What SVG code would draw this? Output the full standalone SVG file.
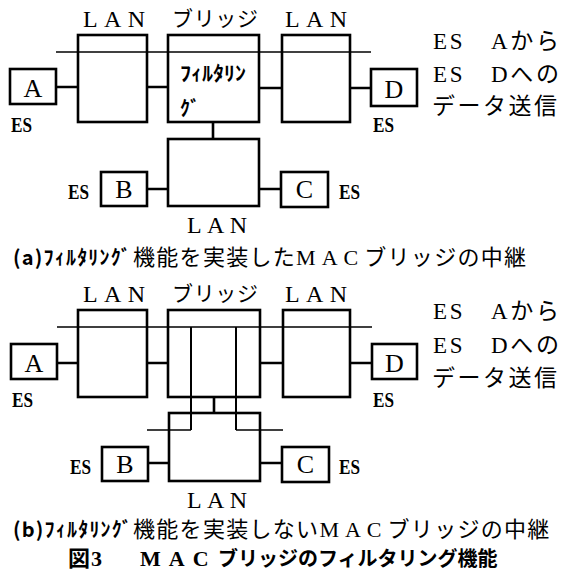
<svg xmlns="http://www.w3.org/2000/svg" width="563" height="581" viewBox="0 0 563 581">
<style>
.box{fill:none;stroke:#000;stroke-width:2.6}
.wire{fill:none;stroke:#000;stroke-width:2.6}
.bus{fill:none;stroke:#000;stroke-width:1.4}
.inner{fill:none;stroke:#000;stroke-width:2}
text{fill:#000}
.mx{font-family:'Liberation Serif','Noto Sans CJK JP',serif}
.jp{font-family:'Noto Sans CJK JP',sans-serif}
.hdr{font-size:24px}
.es{font-family:'Liberation Serif',serif;font-size:22px;font-weight:bold}
.let{font-family:'Liberation Serif',serif;font-size:26px;text-anchor:middle}
.side{font-size:23px}
.kana{font-family:'Noto Sans CJK JP',sans-serif;font-weight:bold;font-size:20px}
.cap{font-size:22px}
.hk{font-family:'Noto Sans CJK JP',sans-serif;font-weight:bold}
</style>
<rect width="563" height="581" fill="#fff"/>

<!-- ===== Panel (a) ===== -->
<g id="a-connectors">
  <path class="bus" d="M56 52 H371"/>
  <path class="wire" d="M56 87 H78 M147 87 H168 M259 88 H282 M350 88 H371 M213 122 V139 M147 189 H168 M259 189 H281"/>
</g>
<g id="a-lan1">
  <rect class="box" x="78" y="35" width="69" height="87"/>
  <text class="mx hdr" x="83" y="27" textLength="62" lengthAdjust="spacing">LAN</text>
</g>
<g id="a-bridge">
  <rect class="box" x="168" y="35" width="91" height="87"/>
  <text class="jp" x="172" y="26" font-size="21" textLength="86" lengthAdjust="spacing">ブリッジ</text>
  <text class="kana" x="180" y="81" textLength="66" lengthAdjust="spacingAndGlyphs">ﾌｨﾙﾀﾘﾝ</text>
  <text class="kana" x="180" y="116">ｸﾞ</text>
</g>
<g id="a-lan3">
  <rect class="box" x="282" y="35" width="68" height="87"/>
  <text class="mx hdr" x="285" y="27" textLength="62" lengthAdjust="spacing">LAN</text>
</g>
<g id="a-es-a">
  <rect class="box" x="10" y="69" width="46" height="35"/>
  <text class="let" x="33" y="97">A</text>
  <text class="es" x="11" y="132" textLength="21" lengthAdjust="spacingAndGlyphs">ES</text>
</g>
<g id="a-es-d">
  <rect class="box" x="371" y="69" width="46" height="37"/>
  <text class="let" x="394" y="98">D</text>
  <text class="es" x="373" y="132" textLength="21" lengthAdjust="spacingAndGlyphs">ES</text>
</g>
<g id="a-lan-bottom">
  <rect class="box" x="168" y="139" width="91" height="67"/>
  <text class="mx hdr" x="187" y="233" textLength="60" lengthAdjust="spacing">LAN</text>
</g>
<g id="a-es-b">
  <rect class="box" x="101" y="172" width="46" height="34"/>
  <text class="let" x="124" y="198">B</text>
  <text class="es" x="68" y="199" textLength="21" lengthAdjust="spacingAndGlyphs">ES</text>
</g>
<g id="a-es-c">
  <rect class="box" x="281" y="172" width="47" height="35"/>
  <text class="let" x="304.5" y="198">C</text>
  <text class="es" x="339" y="199" textLength="21" lengthAdjust="spacingAndGlyphs">ES</text>
</g>
<g id="a-note">
  <text class="mx side" x="433" y="49" textLength="126" lengthAdjust="spacing">ES　Aから</text>
  <text class="mx side" x="433" y="82" textLength="126" lengthAdjust="spacing">ES　Dへの</text>
  <text class="jp side" x="432" y="114" textLength="125" lengthAdjust="spacing">データ送信</text>
</g>
<g id="a-caption">
  <text class="mx cap" x="13" y="265"><tspan class="hk" font-size="20" letter-spacing="1.2">(a)ﾌｨﾙﾀﾘﾝｸﾞ</tspan><tspan x="133" letter-spacing="1.3">機能を実装した</tspan><tspan letter-spacing="6">MAC</tspan><tspan letter-spacing="1.3">ブリッジの中継</tspan></text>
</g>

<!-- ===== Panel (b) ===== -->
<g id="b-connectors">
  <path class="bus" d="M57 327 H372 M147 430 H191 M236 430 H283"/>
  <path class="inner" d="M191 327 V430 M236 327 V430"/>
  <path class="wire" d="M57 363 H78 M147 363 H168 M260 363 H283 M350 363 H372 M214 397 V413 M148 463 H169 M260 463 H282"/>
</g>
<g id="b-lan1">
  <rect class="box" x="78" y="310" width="69" height="87"/>
  <text class="mx hdr" x="83" y="302" textLength="62" lengthAdjust="spacing">LAN</text>
</g>
<g id="b-bridge">
  <rect class="box" x="168" y="310" width="92" height="87"/>
  <text class="jp" x="172" y="301" font-size="21" textLength="86" lengthAdjust="spacing">ブリッジ</text>
</g>
<g id="b-lan3">
  <rect class="box" x="283" y="310" width="67" height="87"/>
  <text class="mx hdr" x="285" y="302" textLength="62" lengthAdjust="spacing">LAN</text>
</g>
<g id="b-es-a">
  <rect class="box" x="11" y="344" width="46" height="35"/>
  <text class="let" x="34" y="372">A</text>
  <text class="es" x="12" y="407" textLength="21" lengthAdjust="spacingAndGlyphs">ES</text>
</g>
<g id="b-es-d">
  <rect class="box" x="372" y="344" width="45" height="35"/>
  <text class="let" x="394.5" y="372">D</text>
  <text class="es" x="373" y="407" textLength="21" lengthAdjust="spacingAndGlyphs">ES</text>
</g>
<g id="b-lan-bottom">
  <rect class="box" x="169" y="413" width="91" height="68"/>
  <text class="mx hdr" x="187" y="508" textLength="60" lengthAdjust="spacing">LAN</text>
</g>
<g id="b-es-b">
  <rect class="box" x="102" y="447" width="46" height="34"/>
  <text class="let" x="125" y="473">B</text>
  <text class="es" x="70" y="474" textLength="21" lengthAdjust="spacingAndGlyphs">ES</text>
</g>
<g id="b-es-c">
  <rect class="box" x="282" y="447" width="47" height="35"/>
  <text class="let" x="305.5" y="473">C</text>
  <text class="es" x="339" y="474" textLength="21" lengthAdjust="spacingAndGlyphs">ES</text>
</g>
<g id="b-note">
  <text class="mx side" x="433" y="319" textLength="126" lengthAdjust="spacing">ES　Aから</text>
  <text class="mx side" x="433" y="353" textLength="126" lengthAdjust="spacing">ES　Dへの</text>
  <text class="jp side" x="432" y="386" textLength="125" lengthAdjust="spacing">データ送信</text>
</g>
<g id="b-caption">
  <text class="mx cap" x="13" y="537"><tspan class="hk" font-size="20" letter-spacing="1.2">(b)ﾌｨﾙﾀﾘﾝｸﾞ</tspan><tspan x="133" letter-spacing="1.3">機能を実装しない</tspan><tspan letter-spacing="6">MAC</tspan><tspan letter-spacing="1.3">ブリッジの中継</tspan></text>
</g>

<!-- ===== Figure title ===== -->
<g id="figure-title">
  <text class="mx" x="68" y="566" font-size="22" font-weight="bold"><tspan class="jp">図</tspan><tspan dx="1">3</tspan>　<tspan x="140" letter-spacing="8">MAC</tspan><tspan x="218" class="jp" font-size="20">ブリッジのフィルタリング機能</tspan></text>
</g>
</svg>
